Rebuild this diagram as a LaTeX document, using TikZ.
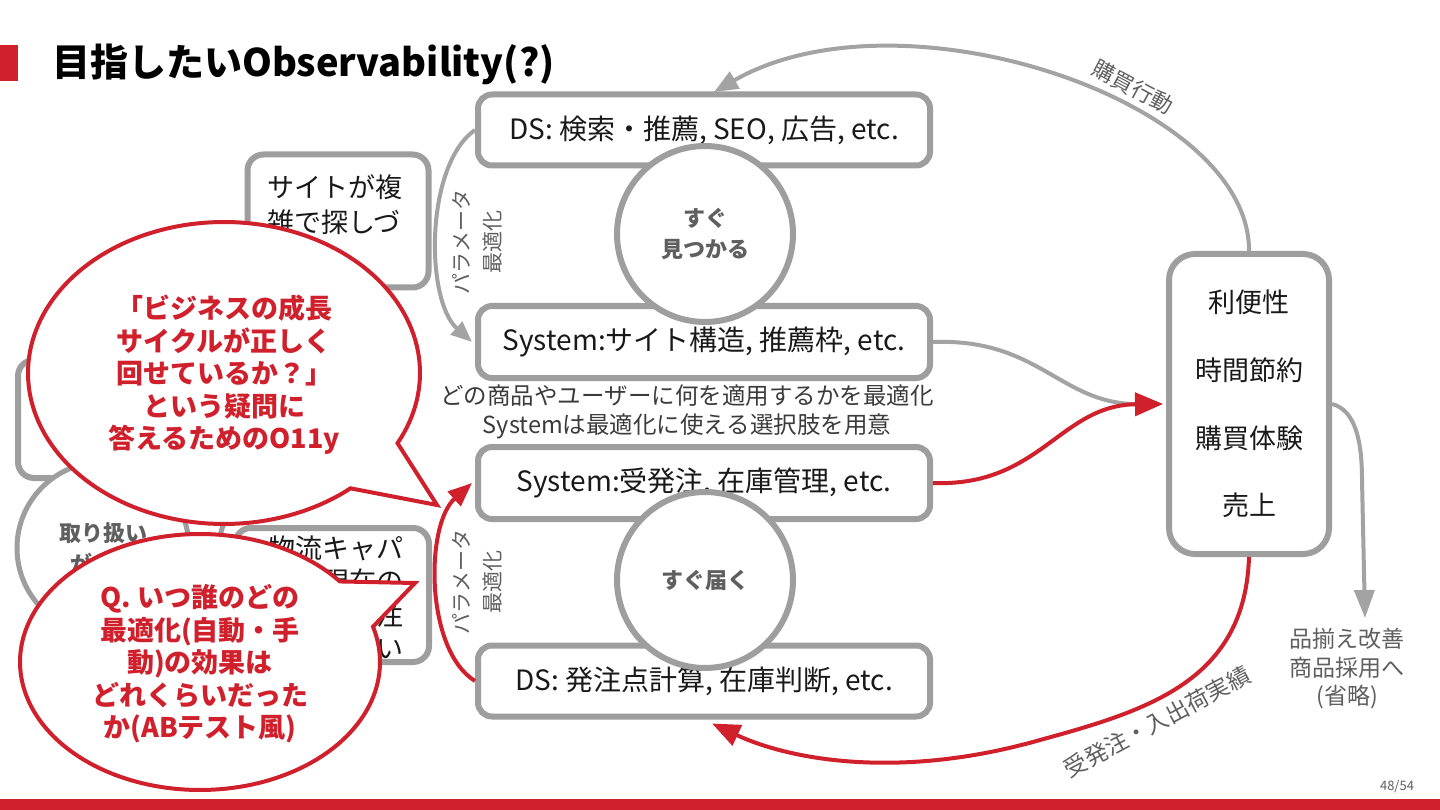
\documentclass[tikz,border=0pt]{standalone}
\usepackage{fontspec}
\setmainfont{Noto Sans CJK JP}
\usetikzlibrary{arrows.meta}
\definecolor{myred}{RGB}{208,32,44}
\definecolor{boxgray}{RGB}{158,158,158}
\definecolor{linegray}{RGB}{163,163,163}
\definecolor{txtgray}{RGB}{95,95,95}
\definecolor{dark}{RGB}{25,25,25}
\begin{document}
\begin{tikzpicture}[x=1pt,y=-1pt,
  box/.style={draw=boxgray, line width=6pt, rounded corners=14pt, fill=white, inner sep=0pt, text=dark, font=\fontsize{28}{34}\selectfont},
  circ/.style={circle, draw=boxgray, line width=6pt, fill=white, minimum size=176pt, inner sep=0pt, text=txtgray, font=\bfseries\fontsize{22}{31}\selectfont, align=center},
  garrow/.style={draw=linegray, line width=4pt, -{Triangle[length=24pt,width=19pt]}},
  rarrow/.style={draw=myred, line width=4pt, -{Triangle[length=26pt,width=21pt]}},
  lbl/.style={text=txtgray, font=\fontsize{22}{31}\selectfont, align=center, inner sep=0pt},
  desc/.style={text=dark!85, font=\fontsize{23.5}{29}\selectfont, align=center, inner sep=0pt},
  bubble/.style={draw=myred, line width=4pt, fill=white, line join=miter},
  btxt/.style={text=myred, font=\bfseries\fontsize{27}{32.5}\selectfont, align=center, inner sep=0pt},
  hidetxt/.style={text=dark, font=\fontsize{27}{35}\selectfont, inner sep=0pt}
]
\useasboundingbox (0,0) rectangle (1440,810);
\fill[white] (0,0) rectangle (1440,810);

% title
\fill[myred] (0,45) rectangle (18,81);
\node[anchor=west, inner sep=0pt, font=\bfseries\fontsize{38}{42}\selectfont] (title) at (52,64) {目指したいObservability(?)};
\fill[myred] (0,799) rectangle (1440,810);
\node[text=txtgray, font=\fontsize{13}{15}\selectfont, inner sep=0pt] (pg) at (1397,786) {48/54};

% right box
\node[box, rounded corners=26pt, minimum width=160pt, minimum height=300pt, align=center, font=\fontsize{27}{67.7}\selectfont] (rb) at (1249,404) {利便性\\時間節約\\購買体験\\売上};

% top big arrow
\draw[garrow] (rb.north) .. controls (1250,100) and (900,-15) .. ([xshift=10pt,yshift=2pt]704,94);

% boxes
\node[box, minimum width=452pt, minimum height=71pt] (ds1) at (704,130) {DS: 検索・推薦, SEO, 広告, etc.};
\node[box, minimum width=452pt, minimum height=72pt] (sys1) at (704,342) {System:サイト構造, 推薦枠, etc.};
\node[box, minimum width=452pt, minimum height=72pt] (sys2) at (704,483) {System:受発注, 在庫管理, etc.};
\node[box, minimum width=452pt, minimum height=71pt] (ds2) at (704,681) {DS: 発注点計算, 在庫判断, etc.};

% circles
\node[circ] (c1) at (705,234) {すぐ\\見つかる};
\node[circ] (c2) at (705,580) {すぐ届く};

% connectors
\draw[garrow] (sys1.east) .. controls (1040,338) and (1060,405) .. ([xshift=-3pt]rb.west);
\draw[rarrow, -{Triangle[length=28pt,width=23pt]}] (sys2.east) .. controls (1040,487) and (1060,405) .. ([xshift=-3pt]rb.west);
\draw[garrow, -{Triangle[length=21pt,width=17pt]}] (ds1.west) .. controls (425,165) and (425,300) .. ([xshift=-3pt]sys1.west);
\draw[rarrow, -{Triangle[length=24pt,width=19pt]}] (ds2.west) .. controls (425,650) and (425,525) .. ([xshift=-3pt]sys2.west);
\coordinate (outtip) at (1365,618);
\draw[garrow, -{Triangle[length=28pt,width=20pt]}] (rb.east) .. controls (1355,410) and (1362,440) .. (1362,480) -- (outtip);
\draw[rarrow, -{Triangle[length=28pt,width=22pt]}] (rb.south) .. controls (1245,680) and (1150,710) .. (1040,740) .. controls (900,780) and (790,760) .. ([xshift=8pt,yshift=-4pt]ds2.south);

% labels
\node[lbl, rotate=-28] (l1) at (1133,87) {購買行動};
\node[lbl, rotate=28, font=\fontsize{23}{31}\selectfont] (l2) at (1157,722) {受発注・入出荷実績};
\node[lbl, rotate=90, font=\fontsize{21}{31}\selectfont] (p1) at (477,242) {パラメータ\\最適化};
\node[lbl, rotate=90, font=\fontsize{21}{31}\selectfont] (p2) at (477,582) {パラメータ\\最適化};
\node[lbl, font=\fontsize{23}{28.5}\selectfont] (l3) at (1347,669) {品揃え改善\\商品採用へ\\(省略)};
\node[desc] (d1) at (687,412) {どの商品やユーザーに何を適用するかを最適化\\Systemは最適化に使える選択肢を用意};

% hidden left items
\node[box, rounded corners=16pt, minimum width=181pt, minimum height=133pt] (site) at (338,221) {};
\node[hidetxt, anchor=west, align=left] (sitet) at (267,222) {サイトが複\\雑で探しづ\\らい};
\node[box, rounded corners=16pt, minimum width=212pt, minimum height=118pt] (lb) at (124,419) {};
\node[circ, minimum size=172pt, line width=5pt] (c3) at (103,548) {取り扱い\\がない};
\node[box, rounded corners=16pt, minimum width=194pt, minimum height=134pt] (logi) at (332,595) {};
\node[hidetxt, anchor=east, align=right, font=\fontsize{27}{33.5}\selectfont] (logit) at (404,598) {物流キャパ\\や現在の\\在庫で発注\\ができない};
\draw[draw=boxgray, line width=5pt] (229,518) .. controls (223,523) and (220,530) .. (220,545);

% bubbles
\draw[bubble] plot[domain=49.8:387.7, samples=160, variable=\t] ({224+196*cos(\t)},{373+151*sin(\t)}) -- (437,505) -- cycle;
\node[btxt] (b1t) at (224,375) {「ビジネスの成長\\サイクルが正しく\\回せているか？」\\という疑問に\\答えるためのO11y};
\draw[bubble] plot[domain=-16:321, samples=160, variable=\t] ({200+180*cos(\t)},{662+128*sin(\t)}) -- (415,583) -- cycle;
\node[btxt] (b2t) at (200,664) {Q. いつ誰のどの\\最適化(自動・手\\動)の効果は\\どれくらいだった\\か(ABテスト風)};
\end{tikzpicture}
\end{document}
